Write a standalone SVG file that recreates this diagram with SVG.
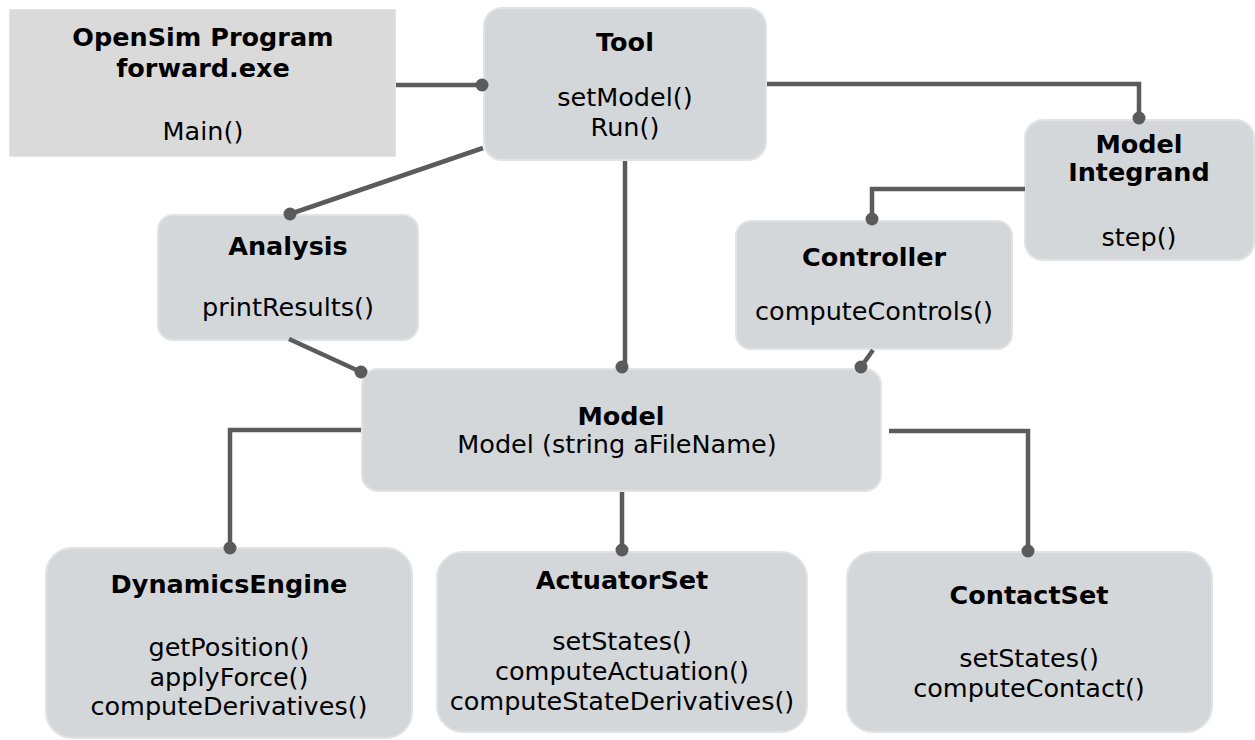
<svg xmlns="http://www.w3.org/2000/svg" width="1255" height="740" viewBox="0 0 1255 740">
<style>
.box{fill:#d4d7da;stroke:#e1e3e5;stroke-width:2}
.plain{fill:#dadada;stroke:#e4e4e4;stroke-width:1}
.t{font-family:"DejaVu Sans",Verdana,sans-serif;font-weight:bold;font-size:25.5px;fill:#000;text-anchor:middle}
.m{font-family:"DejaVu Sans",Verdana,sans-serif;font-size:25.5px;fill:#000;text-anchor:middle}
.c{fill:none;stroke:#5b5b5b;stroke-width:4.5}
.d{fill:#5b5b5b}
</style>
<rect width="1255" height="740" fill="#fff"/>
<g id="opensim">
<rect class="plain" x="9.5" y="9.5" width="386" height="147"/>
<text class="t" x="203" y="46">OpenSim Program</text>
<text class="t" x="203" y="77">forward.exe</text>
<text class="m" x="203" y="140">Main()</text>
</g>
<g id="tool">
<rect class="box" x="484" y="8" width="282" height="152" rx="18"/>
<text class="t" x="625" y="51">Tool</text>
<text class="m" x="625" y="106">setModel()</text>
<text class="m" x="625" y="136">Run()</text>
</g>
<g id="integrand">
<rect class="box" x="1025" y="120" width="229" height="140" rx="18"/>
<text class="t" x="1139" y="153">Model</text>
<text class="t" x="1139" y="181">Integrand</text>
<text class="m" x="1139" y="246">step()</text>
</g>
<g id="controller">
<rect class="box" x="736" y="221" width="276" height="128" rx="15"/>
<text class="t" x="874" y="266">Controller</text>
<text class="m" x="874" y="320">computeControls()</text>
</g>
<g id="analysis">
<rect class="box" x="158" y="215" width="260" height="125" rx="15"/>
<text class="t" x="288" y="255">Analysis</text>
<text class="m" x="288" y="316">printResults()</text>
</g>
<g id="model">
<rect class="box" x="362" y="369" width="519" height="122" rx="16"/>
<text class="t" x="621" y="425">Model</text>
<text class="m" x="617" y="453">Model (string aFileName)</text>
</g>
<g id="dynamics">
<rect class="box" x="46" y="548" width="366" height="190" rx="26"/>
<text class="t" x="229" y="593">DynamicsEngine</text>
<text class="m" x="229" y="656">getPosition()</text>
<text class="m" x="229" y="686">applyForce()</text>
<text class="m" x="229" y="715">computeDerivatives()</text>
</g>
<g id="actuatorset">
<rect class="box" x="437" y="552" width="370" height="180" rx="26"/>
<text class="t" x="622" y="589">ActuatorSet</text>
<text class="m" x="622" y="650">setStates()</text>
<text class="m" x="622" y="680">computeActuation()</text>
<text class="m" x="622" y="710">computeStateDerivatives()</text>
</g>
<g id="contactset">
<rect class="box" x="847" y="552" width="365" height="180" rx="26"/>
<text class="t" x="1029" y="604">ContactSet</text>
<text class="m" x="1029" y="667">setStates()</text>
<text class="m" x="1029" y="697">computeContact()</text>
</g>
<g id="connectors">
<path class="c" d="M396 85H482"/><circle class="d" cx="482" cy="85" r="6.5"/>
<path class="c" d="M767 84H1139V118"/><circle class="d" cx="1139" cy="118" r="6.5"/>
<path class="c" d="M1025 189H872V219"/><circle class="d" cx="872" cy="219" r="6.5"/>
<path class="c" d="M483 148L290 214"/><circle class="d" cx="290" cy="214" r="6.5"/>
<path class="c" d="M625 161V367"/><circle class="d" cx="622" cy="367" r="6.5"/>
<path class="c" d="M289 339L361 372"/><circle class="d" cx="361" cy="372" r="6.5"/>
<path class="c" d="M873 350L861 367"/><circle class="d" cx="861" cy="367" r="6.5"/>
<path class="c" d="M361 430H230V548"/><circle class="d" cx="230" cy="548" r="6.5"/>
<path class="c" d="M622 492V550"/><circle class="d" cx="622" cy="550" r="6.5"/>
<path class="c" d="M889 431H1028V551"/><circle class="d" cx="1028" cy="551" r="6.5"/>
</g>
</svg>
